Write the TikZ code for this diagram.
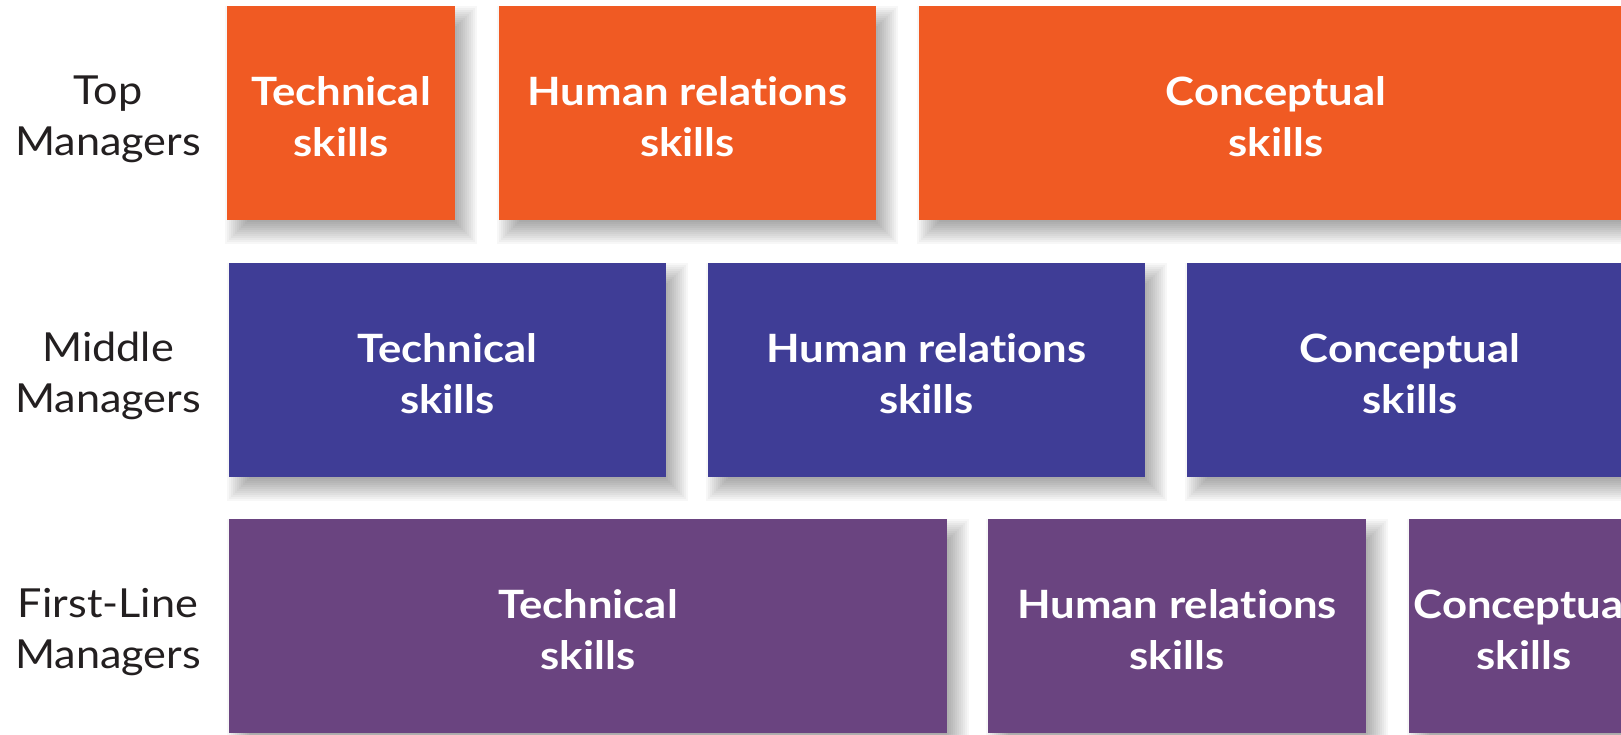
\documentclass[tikz,border=0pt]{standalone}
\usepackage{fontspec}
\setmainfont{Lato}[FakeStretch=1.08, Ligatures=NoCommon]
\newfontfamily\boxfont{Lato Bold}[FakeStretch=1.12, Ligatures=NoCommon]
\definecolor{toporange}{RGB}{240,90,35}
\definecolor{midblue}{RGB}{63,61,150}
\definecolor{firstpurple}{RGB}{106,68,128}
\definecolor{labelgray}{RGB}{35,31,32}
\tikzset{
  skillbox/.style={draw=none, inner sep=0pt, outer sep=0pt, text=white,
    font=\boxfont\fontsize{39}{51}\selectfont, align=center},
  rowlabel/.style={inner sep=0pt, text=labelgray,
    font=\fontsize{40}{51}\selectfont, align=center},
}
\newcommand\mkshadow[4]{%
  \foreach \k in {0,...,11}{%
    \fill[black, opacity=0.03]
      ({#1+10-12+2*\k},{#2+12-12+2*\k}) rectangle ({#3+10+12-2*\k},{#4+12+12-2*\k});
  }%
}
\newcommand\mkbox[7]{%
  \fill[#6] (#2,#3) rectangle (#4,#5);
  \node[skillbox] (#1) at ({(#2+#4)/2},{(#3+#5)/2+4}) {#7};
}
\begin{document}
\begin{tikzpicture}[x=1pt,y=-1pt]
\useasboundingbox (0,0) rectangle (1621,734);
\begin{scope}
\clip (0,0) rectangle (1621,734);
\fill[white] (0,0) rectangle (1621,734);
% shadows
\mkshadow{227}{6}{455}{220}
\mkshadow{499}{6}{876}{220}
\mkshadow{919}{6}{1633}{220}
\mkshadow{229}{263}{666}{477}
\mkshadow{708}{263}{1145}{477}
\mkshadow{1187}{263}{1633}{477}
\mkshadow{229}{519}{947}{733}
\mkshadow{988}{519}{1366}{733}
\mkshadow{1409}{519}{1639}{733}
% boxes
\mkbox{tt}{227}{6}{455}{220}{toporange}{Technical\\skills}
\mkbox{th}{499}{6}{876}{220}{toporange}{Human relations\\skills}
\mkbox{tc}{919}{6}{1633}{220}{toporange}{Conceptual\\skills}
\mkbox{mt}{229}{263}{666}{477}{midblue}{Technical\\skills}
\mkbox{mh}{708}{263}{1145}{477}{midblue}{Human relations\\skills}
\mkbox{mc}{1187}{263}{1633}{477}{midblue}{Conceptual\\skills}
\mkbox{ft}{229}{519}{947}{733}{firstpurple}{Technical\\skills}
\mkbox{fh}{988}{519}{1366}{733}{firstpurple}{Human relations\\skills}
\mkbox{fc}{1409}{519}{1639}{733}{firstpurple}{Conceptual\\skills}
\end{scope}
% row labels
\node[rowlabel] (ltop) at (108,119) {Top\\Managers};
\node[rowlabel] (lmid) at (108,376) {Middle\\Managers};
\node[rowlabel] (lfirst) at (108,632) {First-Line\\Managers};
\end{tikzpicture}
\end{document}
